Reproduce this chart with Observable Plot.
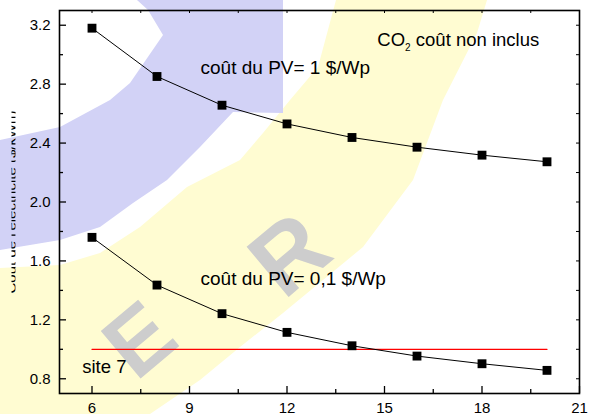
<!DOCTYPE html>
<html>
<head>
<meta charset="utf-8">
<script src="https://cdn.jsdelivr.net/npm/d3@7"></script>
<script src="https://cdn.jsdelivr.net/npm/@observablehq/plot@0.6"></script>
<style>
  html, body { margin: 0; padding: 0; background: #fff; }
  #chart { position: relative; width: 591px; height: 414px; overflow: hidden; }
</style>
</head>
<body>
<div id="chart"></div>
<script>
// Cost curves for two PV module prices (CO2 cost not included)
const xValues  = [6, 8, 10, 12, 14, 16, 18, 20];
const costPV1  = [3.18, 2.852, 2.657, 2.53, 2.438, 2.372, 2.318, 2.273];
const costPV01 = [1.76, 1.436, 1.242, 1.115, 1.024, 0.954, 0.902, 0.857];

// Reference level for site 7
const siteLevel = 1.0;
const siteSpan  = [6, 20];

// Axis ticks
const xTicks = [6, 9, 12, 15, 18, 21];
const xMinor = [7.5, 10.5, 13.5, 16.5, 19.5];
const yTicks = [0.8, 1.2, 1.6, 2.0, 2.4, 2.8, 3.2];
const yMinor = [1.0, 1.4, 1.8, 2.2, 2.6, 3.0];

// Curve labels and other annotations, anchored in data space
const curveNoteText = ["coût du PV= 1 $/Wp", "coût du PV= 0,1 $/Wp"];
const curveNoteX    = [9.34, 9.34];
const curveNoteY    = [2.868, 1.436];
const otherNoteText = ["site 7", "CO2 coût non inclus"];
const otherNoteX    = [5.70, 14.78];
const otherNoteY    = [0.837, 3.062];

const yTitle = "Coût de l'électricité ($/kWh)";

// Build tables for Plot
const seriesRows = [
  ...xValues.map((x, i) => ({x, y: costPV1[i], s: "pv1"})),
  ...xValues.map((x, i) => ({x, y: costPV01[i], s: "pv01"}))
];
const siteRows = siteSpan.map(x => ({x, y: siteLevel}));
const curveNotes = curveNoteText.map((text, i) => ({text, x: curveNoteX[i], y: curveNoteY[i]}));
const otherNotes = otherNoteText.map((text, i) => ({text, x: otherNoteX[i], y: otherNoteY[i]}));

const W = 591, H = 414;
const mL = 59, mR = 12, mT = 10, mB = 21;
const FW = W - mL - mR, FH = H - mT - mB;

const chart = Plot.plot({
  width: W,
  height: H,
  marginLeft: mL,
  marginRight: mR,
  marginTop: mT,
  marginBottom: mB,
  style: {
    fontFamily: "Arial, 'Liberation Sans', sans-serif",
    fontSize: "15px",
    background: "transparent",
    color: "black",
    overflow: "visible"
  },
  x: {domain: [5, 21], label: null},
  y: {domain: [0.7, 3.3], label: null},
  marks: [
    // inward ticks: bottom & left (long), top & right (short)
    Plot.tickX(xTicks, {x: d => d, insetTop: FH - 7, stroke: "black", strokeWidth: 1.3}),
    Plot.tickX(xMinor, {x: d => d, insetTop: FH - 4, stroke: "black", strokeWidth: 1.3}),
    Plot.tickX(xTicks.concat(xMinor), {x: d => d, insetBottom: FH - 3, stroke: "black", strokeWidth: 1}),
    Plot.tickY(yTicks, {y: d => d, insetRight: FW - 7, stroke: "black", strokeWidth: 1.3}),
    Plot.tickY(yMinor, {y: d => d, insetRight: FW - 4, stroke: "black", strokeWidth: 1.3}),
    Plot.tickY(yTicks.concat(yMinor), {y: d => d, insetLeft: FW - 3, stroke: "black", strokeWidth: 1}),
    Plot.axisX(xTicks, {tickSize: 0, tickPadding: 9, fontSize: 15, label: null}),
    Plot.axisY(yTicks, {tickSize: 0, tickPadding: 9, fontSize: 15, label: null, tickFormat: d3.format(".1f")}),
    Plot.frame({stroke: "black", strokeWidth: 1.6}),
    Plot.line(siteRows, {x: "x", y: "y", stroke: "#ff0000", strokeWidth: 1.3}),
    Plot.line(seriesRows, {x: "x", y: "y", z: "s", stroke: "black", strokeWidth: 1}),
    Plot.dot(seriesRows, {x: "x", y: "y", symbol: "square", r: 5, fill: "black", stroke: "none"}),
    Plot.text(curveNotes, {x: "x", y: "y", text: "text", textAnchor: "start", lineAnchor: "bottom", fontSize: 19, fill: "black"}),
    Plot.text(otherNotes, {x: "x", y: "y", text: "text", textAnchor: "start", lineAnchor: "bottom", fontSize: 18.5, fill: "black"}),
    Plot.text([yTitle], {text: d => d, frameAnchor: "left", textAnchor: "middle", rotate: -90, dx: -44, lineAnchor: "bottom", fontSize: 15, fill: "black"})
  ]
});

document.getElementById("chart").appendChild(chart);

const svg = d3.select(chart);
const NS = "http://www.w3.org/2000/svg";

// Faint background watermark behind the plot
const washBlue = [[137,0],[283,0],[283,113],[233,112],[200,147],[167,180],[133,203],[100,227],[60,240],[0,250],[0,140],[60,127],[110,100],[130,83],[163,35],[148,10]];
const washYellow = [[336,0],[318,67],[290,100],[263,133],[240,160],[187,187],[140,227],[100,253],[60,265],[0,268],[0,414],[150,414],[200,380],[240,347],[283,313],[323,280],[363,247],[413,180],[443,100],[477,33],[487,0]];
const wash = document.createElementNS(NS, "g");
chart.insertBefore(wash, chart.firstChild.nextSibling);
const gw = d3.select(wash);
gw.append("polygon").attr("points", washYellow.join(" ")).attr("fill", "#fffcd2");
gw.append("polygon").attr("points", washBlue.join(" ")).attr("fill", "#d2d2f6");
gw.append("text").text("E").attr("transform", "translate(159,363) rotate(-40)")
  .attr("text-anchor", "middle").attr("font-size", 90).attr("font-weight", "bold")
  .attr("font-family", "Arial, 'Liberation Sans', sans-serif").attr("fill", "#cdcdcd");
gw.append("text").text("R").attr("transform", "translate(310,279) rotate(-40)")
  .attr("text-anchor", "middle").attr("font-size", 95).attr("font-weight", "bold")
  .attr("font-family", "Arial, 'Liberation Sans', sans-serif").attr("fill", "#cdcdcd");

svg.selectAll("text").each(function () {
  // Subscript 2 in "CO2"
  if (this.textContent === "CO2 coût non inclus") {
    const t = d3.select(this);
    t.text(null);
    t.append("tspan").text("CO");
    t.append("tspan").text("2").attr("font-size", 10).attr("dy", 5);
    t.append("tspan").text(" coût non inclus").attr("dy", -5);
  }
  // The axis title sits mostly past the left edge; only a sliver shows
  if (this.textContent === yTitle) {
    const markGroup = this.parentNode;
    const holder = document.createElementNS(NS, "g");
    markGroup.parentNode.insertBefore(holder, markGroup);
    holder.appendChild(markGroup);
    holder.setAttribute("clip-path", "url(#ytitle-clip)");
  }
});

svg.append("defs").append("clipPath").attr("id", "ytitle-clip")
  .append("rect").attr("x", 11.5).attr("y", 0).attr("width", 4).attr("height", H);
</script>
</body>
</html>
